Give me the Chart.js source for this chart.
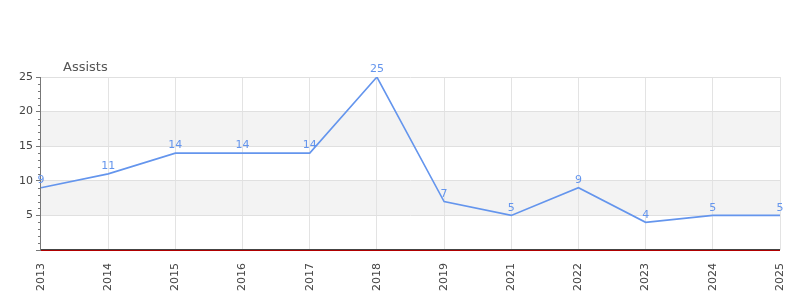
<!DOCTYPE html>
<html>
<head>
<meta charset="utf-8">
<script src="https://cdn.jsdelivr.net/npm/chart.js@4/dist/chart.umd.min.js"></script>
<style>
  html, body { margin: 0; padding: 0; background: #fff; }
  #wrap { width: 800px; height: 300px; }
</style>
</head>
<body>
<div id="wrap"><canvas id="c"></canvas></div>
<script>
// data
const years = ["2013", "2014", "2015", "2016", "2017", "2018", "2019", "2021", "2022", "2023", "2024", "2025"];
const assists = [9, 11, 14, 14, 14, 25, 7, 5, 9, 4, 5, 5];
const yTicks = [5, 10, 15, 20, 25];
const seriesName = "Assists";

const FONT = "'DejaVu Sans', sans-serif";
const BLUE = "#6495ed";

// grey bands between every other pair of y ticks + minor ticks on the y axis
const bandsPlugin = {
  id: "bands",
  beforeDraw(chart) {
    const { ctx, chartArea, scales } = chart;
    const y = scales.y;
    ctx.save();
    ctx.fillStyle = "#f3f3f3";
    for (let i = 0; i < yTicks.length - 1; i += 2) {
      const top = y.getPixelForValue(yTicks[i + 1]);
      const bot = y.getPixelForValue(yTicks[i]);
      ctx.fillRect(chartArea.left, top, chartArea.right - chartArea.left, bot - top);
    }
    ctx.restore();
  },
  afterDraw(chart) {
    const { ctx, chartArea, scales } = chart;
    const y = scales.y;
    ctx.save();
    ctx.strokeStyle = "#777";
    ctx.lineWidth = 1;
    for (let v = 1; v < 25; v++) {
      if (v % 5 === 0) continue;
      const py = Math.round(y.getPixelForValue(v)) + 0.5;
      ctx.beginPath();
      ctx.moveTo(chartArea.left - 3, py);
      ctx.lineTo(chartArea.left, py);
      ctx.stroke();
    }
    // bottom axis line
    const py0 = Math.round(y.getPixelForValue(0));
    ctx.fillStyle = "#444";
    ctx.fillRect(chartArea.left, py0 - 1, chartArea.right - chartArea.left, 1);
    ctx.fillStyle = "#b00000";
    ctx.fillRect(chartArea.left, py0, chartArea.right - chartArea.left, 1);

    // value labels
    const meta = chart.getDatasetMeta(0);
    ctx.font = "11px " + FONT;
    ctx.fillStyle = BLUE;
    ctx.textAlign = "center";
    ctx.textBaseline = "bottom";
    meta.data.forEach((pt, i) => {
      ctx.fillText(String(assists[i]), pt.x, pt.y - 2);
    });

    // series title
    ctx.font = "13px " + FONT;
    ctx.fillStyle = "#555";
    ctx.textAlign = "left";
    ctx.textBaseline = "bottom";
    ctx.fillText(seriesName, chartArea.left + 22, chartArea.top - 3);
    ctx.restore();
  }
};

new Chart(document.getElementById("c"), {
  type: "line",
  data: {
    labels: years,
    datasets: [
      {
        label: seriesName,
        data: assists,
        borderColor: BLUE,
        borderWidth: 1.6,
        pointRadius: 0,
        tension: 0,
        fill: false,
      },
    ],
  },
  options: {
    responsive: true,
    maintainAspectRatio: false,
    animation: false,
    layout: { padding: { top: 77, right: 20, left: 16, bottom: -4 } },
    plugins: {
      legend: { display: false },
      tooltip: { enabled: false },
      title: { display: false },
    },
    scales: {
      x: {
        offset: false,
        grid: { color: "#e3e3e3", drawTicks: false },
        border: { display: false },
        afterFit: (s) => {
          s.paddingRight = 0;
          s.paddingLeft = 0;
        },
        ticks: {
          color: "#444",
          font: { family: FONT, size: 11 },
          maxRotation: 90,
          minRotation: 90,
          padding: 13,
          autoSkip: false,
        },
      },
      y: {
        min: 0,
        max: 25,
        grid: { color: "#e0e0e0", tickColor: "#777", tickLength: 5 },
        border: { display: true, color: "#777" },
        ticks: {
          stepSize: 5,
          color: "#444",
          font: { family: FONT, size: 11 },
          padding: 3,
          callback: (v) => (v === 0 ? "" : v),
        },
      },
    },
  },
  plugins: [bandsPlugin],
});
</script>
</body>
</html>
